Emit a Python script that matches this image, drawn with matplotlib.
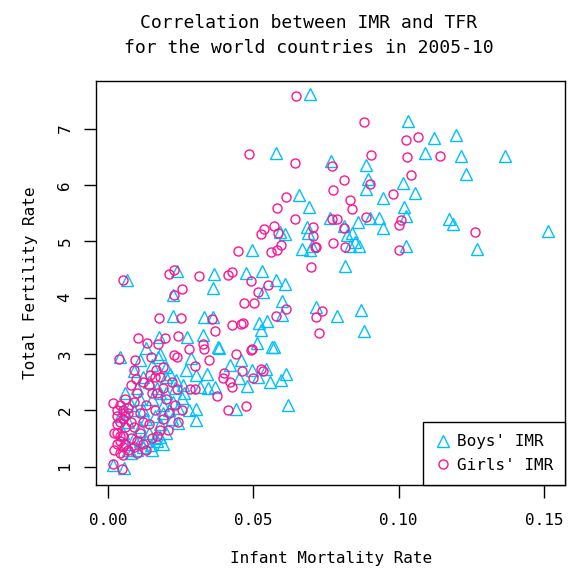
import matplotlib
matplotlib.use('Agg')
import matplotlib.pyplot as plt
from matplotlib.ticker import FormatStrFormatter

plt.rcParams['font.family'] = ['DejaVu Sans Mono']

# boys' infant mortality rate vs total fertility rate
boys_imr = [0.0694, 0.1033, 0.1122, 0.1197, 0.0577, 0.1091, 0.1213, 0.1366, 0.0766, 0.0887,
            0.1231, 0.0894, 0.1016, 0.0887, 0.0656, 0.1057, 0.0945, 0.0690, 0.1019, 0.1025,
            0.0763, 0.0812, 0.0903, 0.0933, 0.0859, 0.0945, 0.0591, 0.0608, 0.0684, 0.0689,
            0.1174, 0.1186, 0.1515, 0.0821, 0.0838, 0.0850, 0.0864, 0.0832, 0.1027, 0.1269,
            0.0667, 0.0695, 0.0701, 0.0497, 0.0815, 0.0065, 0.0238, 0.0224, 0.0364, 0.0362,
            0.0474, 0.0529, 0.0577, 0.0610, 0.0534, 0.0598, 0.0600, 0.0717, 0.0789, 0.0871,
            0.0880, 0.0224, 0.0332, 0.0362, 0.0520, 0.0548, 0.0527, 0.0273, 0.0327, 0.0176,
            0.0379, 0.0382, 0.0566, 0.0572, 0.0514, 0.0042, 0.0109, 0.0172, 0.0419, 0.0457,
            0.0614, 0.0621, 0.0440, 0.0304, 0.0302, 0.0241, 0.0557, 0.0595, 0.0545, 0.0497,
            0.0517, 0.0479, 0.0451, 0.0270, 0.0304, 0.0339, 0.0316, 0.0344, 0.0367, 0.0258,
            0.0235, 0.0212, 0.0201, 0.0253, 0.0224, 0.0189, 0.0178, 0.0147, 0.0055, 0.0017,
            0.0287, 0.0199,
            0.004, 0.005, 0.006, 0.007, 0.008, 0.009, 0.010, 0.011, 0.012, 0.013,
            0.014, 0.015, 0.016, 0.017, 0.018, 0.019, 0.020, 0.006, 0.008, 0.010,
            0.012, 0.014, 0.016, 0.018, 0.021, 0.022, 0.024, 0.013, 0.009, 0.011,
            0.015, 0.017, 0.005, 0.007, 0.020, 0.023, 0.026, 0.028, 0.019, 0.012,
            0.009, 0.013, 0.015, 0.018, 0.011]
boys_tfr = [7.61, 7.13, 6.83, 6.88, 6.57, 6.56, 6.52, 6.52, 6.42, 6.36,
            6.19, 6.11, 6.04, 5.93, 5.82, 5.86, 5.76, 5.61, 5.61, 5.45,
            5.41, 5.27, 5.42, 5.42, 5.34, 5.24, 5.17, 5.13, 5.26, 5.15,
            5.39, 5.31, 5.18, 5.11, 5.14, 4.99, 4.92, 4.91, 4.92, 4.87,
            4.86, 4.84, 4.92, 4.85, 4.56, 4.32, 4.48, 4.04, 4.42, 4.17,
            4.44, 4.48, 4.31, 4.25, 4.10, 3.94, 3.70, 3.83, 3.68, 3.78,
            3.41, 3.67, 3.66, 3.66, 3.55, 3.59, 3.43, 3.30, 3.33, 3.30,
            3.13, 3.11, 3.12, 3.12, 3.20, 2.95, 2.89, 2.95, 2.80, 2.89,
            2.65, 2.09, 2.03, 2.03, 1.82, 1.77, 2.51, 2.54, 2.74, 2.71,
            2.60, 2.43, 2.58, 2.71, 2.63, 2.65, 2.42, 2.39, 2.42, 2.45,
            2.54, 2.65, 2.30, 2.21, 2.15, 1.95, 1.53, 1.38, 0.97, 1.03,
            2.92, 2.77,
            1.90, 1.60, 1.40, 1.80, 2.10, 1.50, 1.30, 1.70, 2.00, 1.45,
            1.60, 2.20, 1.90, 2.40, 1.75, 2.10, 1.60, 2.30, 1.25, 2.40,
            1.35, 2.50, 1.50, 2.30, 2.00, 1.85, 2.05, 1.85, 2.00, 1.45,
            1.30, 1.45, 2.00, 1.30, 2.60, 2.40, 2.30, 2.00, 1.40, 2.60,
            2.70, 3.10, 2.80, 3.00, 2.20]

# girls' infant mortality rate vs total fertility rate
girls_imr = [0.0647, 0.0880, 0.1027, 0.1068, 0.0486, 0.0642, 0.1030, 0.1143, 0.0906, 0.0770,
             0.0812, 0.1041, 0.0901, 0.0773, 0.0979, 0.0613, 0.0832, 0.0840, 0.0582, 0.0644,
             0.0770, 0.0787, 0.0887, 0.0812, 0.1007, 0.1002, 0.1263, 0.1002, 0.0571, 0.0537,
             0.0528, 0.0585, 0.0704, 0.0704, 0.0717, 0.0713, 0.0773, 0.0817, 0.0595, 0.0582,
             0.0560, 0.0449, 0.0700, 0.0052, 0.0210, 0.0226, 0.0228, 0.0256, 0.0313, 0.0413,
             0.0428, 0.0491, 0.0515, 0.0550, 0.0467, 0.0502, 0.0614, 0.0577, 0.0738, 0.0717,
             0.0726, 0.0176, 0.0251, 0.0359, 0.0426, 0.0459, 0.0463, 0.0367, 0.0103, 0.0135,
             0.0241, 0.0195, 0.0327, 0.0329, 0.0279, 0.0172, 0.0497, 0.0493, 0.0442, 0.0348,
             0.0226, 0.0238, 0.0147, 0.0038, 0.0093, 0.0088, 0.0098, 0.0299, 0.0400, 0.0396,
             0.0419, 0.0428, 0.0460, 0.0525, 0.0534, 0.0499, 0.0375, 0.0412, 0.0476, 0.0256,
             0.0281, 0.0298, 0.0238, 0.0207, 0.0242, 0.0017, 0.0047, 0.0017, 0.0166, 0.0144,
             0.0189,
             0.003, 0.004, 0.003, 0.004, 0.005, 0.004, 0.005, 0.006, 0.003, 0.005,
             0.006, 0.007, 0.004, 0.006, 0.007, 0.008, 0.008, 0.009, 0.010, 0.011,
             0.012, 0.013, 0.014, 0.015, 0.016, 0.017, 0.018, 0.019, 0.002, 0.003,
             0.005, 0.006, 0.007, 0.009, 0.010, 0.011, 0.012, 0.013, 0.008, 0.010,
             0.015, 0.012, 0.014, 0.002, 0.003, 0.004, 0.005, 0.009, 0.020, 0.022,
             0.016, 0.018, 0.019, 0.021, 0.017, 0.023]
girls_tfr = [7.58, 7.11, 6.80, 6.85, 6.54, 6.39, 6.50, 6.51, 6.53, 6.34,
             6.08, 6.17, 6.01, 5.91, 5.84, 5.79, 5.74, 5.57, 5.59, 5.39,
             5.40, 5.39, 5.43, 5.23, 5.37, 5.28, 5.17, 4.85, 5.27, 5.21,
             5.12, 5.14, 5.26, 5.09, 4.89, 4.90, 4.97, 4.90, 4.93, 4.84,
             4.81, 4.83, 4.54, 4.31, 4.42, 4.49, 4.04, 4.16, 4.38, 4.40,
             4.45, 4.29, 4.10, 4.22, 3.91, 3.91, 3.80, 3.68, 3.77, 3.65,
             3.38, 3.64, 3.64, 3.62, 3.51, 3.53, 3.55, 3.41, 3.28, 3.20,
             3.32, 3.28, 3.17, 3.08, 3.09, 3.17, 3.09, 3.07, 3.00, 2.90,
             2.99, 2.94, 2.95, 2.91, 2.89, 2.71, 2.55, 2.78, 2.67, 2.57,
             2.51, 2.41, 2.70, 2.73, 2.70, 2.58, 2.25, 2.00, 2.08, 2.00,
             2.37, 2.38, 2.38, 1.65, 1.80, 2.13, 0.95, 1.05, 2.71, 2.63,
             2.76,
             1.90, 1.80, 1.60, 1.45, 1.35, 1.25, 2.00, 1.70, 1.75, 1.55,
             1.40, 1.30, 2.10, 2.20, 1.95, 1.50, 1.80, 1.35, 2.30, 1.60,
             1.40, 2.10, 1.75, 1.50, 2.00, 2.30, 1.65, 2.40, 1.30, 1.40,
             1.85, 1.90, 2.05, 2.15, 1.45, 1.95, 1.80, 1.30, 2.45, 1.25,
             2.30, 2.50, 2.45, 1.60, 2.00, 1.55, 1.20, 1.70, 2.20, 2.50,
             2.60, 2.60, 1.85, 1.95, 1.55, 2.10]

fig = plt.figure(figsize=(5.72, 5.76), dpi=100)
ax = fig.add_axes([0.168, 0.158, 0.820, 0.701])

ax.plot(boys_imr, boys_tfr, linestyle='none', marker='^', markersize=8.5,
        markerfacecolor='none', markeredgecolor='deepskyblue', markeredgewidth=1.0,
        label="Boys' IMR")
ax.plot(girls_imr, girls_tfr, linestyle='none', marker='o', markersize=6.5,
        markerfacecolor='none', markeredgecolor='deeppink', markeredgewidth=1.0,
        label="Girls' IMR")

ax.set_xlim(-0.0041, 0.1573)
ax.set_ylim(0.675, 7.84)
ax.set_xticks([0.0, 0.05, 0.10, 0.15])
ax.xaxis.set_major_formatter(FormatStrFormatter('%.2f'))
ax.set_yticks([1, 2, 3, 4, 5, 6, 7])
ax.tick_params(axis='both', length=9, width=1, labelsize=11.5)
ax.tick_params(axis='x', pad=11)
ax.tick_params(axis='y', pad=8)
for lab in ax.get_yticklabels():
    lab.set_rotation(90)
    lab.set_va('center')
for s in ax.spines.values():
    s.set_linewidth(1.0)

ax.set_xlabel('Infant Mortality Rate', fontsize=11.5, labelpad=17)
ax.set_ylabel('Total Fertility Rate', fontsize=11.5, labelpad=14)
fig.suptitle('Correlation between IMR and TFR\nfor the world countries in 2005-10',
             fontsize=13, x=0.54, y=0.975, linespacing=1.5)

leg = ax.legend(loc='lower right', borderaxespad=0, fancybox=False, framealpha=1,
                edgecolor='black', fontsize=11.5, handletextpad=0.4, borderpad=0.75,
                handlelength=1.0, labelspacing=0.55)
leg.get_frame().set_linewidth(1.0)

plt.savefig('out.png', dpi=100)
